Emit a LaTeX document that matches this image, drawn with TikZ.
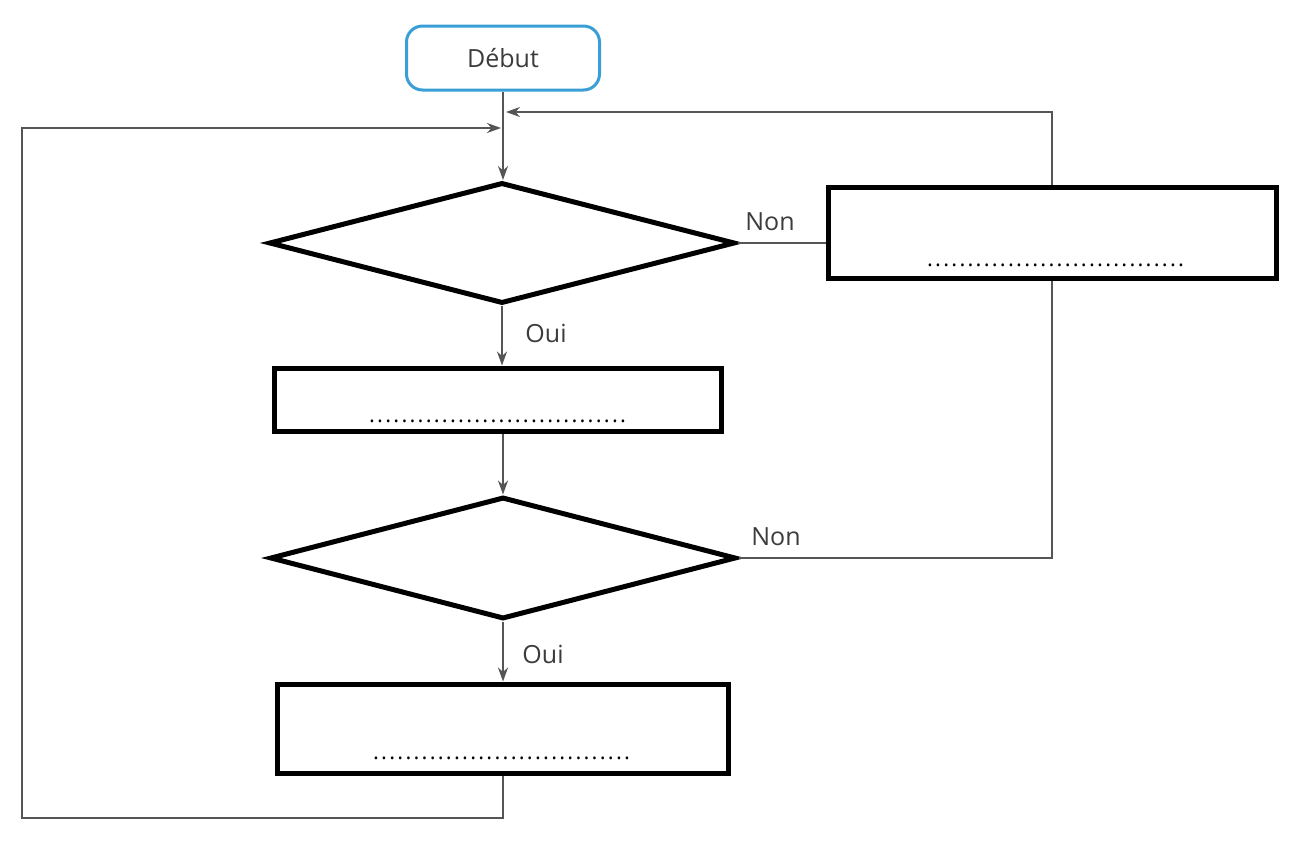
\documentclass[tikz,border=0pt]{standalone}
\usepackage{fontspec}
\setmainfont{Open Sans}
\usetikzlibrary{shapes.geometric,arrows.meta}
\definecolor{txtgray}{HTML}{3C3C3C}
\definecolor{lgray}{HTML}{555555}
\definecolor{dblue}{HTML}{3A9FD6}
\newcommand{\dotrow}{\hbox to 260pt{\leaders\hbox to 8.1pt{\hss.\hss}\hfill}}
\begin{document}
\begin{tikzpicture}[x=1pt,y=-1pt,
  every node/.style={font=\fontsize{25}{30}\selectfont, text=txtgray},
  conn/.style={draw=lgray, line width=2pt},
  arr/.style={conn,-{Stealth[length=14pt,width=10pt]}},
  startbox/.style={draw=dblue, line width=3pt, rounded corners=16pt, fill=white, inner sep=0pt},
  procbox/.style={draw=black, line width=5pt, inner sep=0pt},
  decbox/.style={diamond, draw=black, line width=5pt, inner sep=0pt},
  dotstxt/.style={text=black, inner sep=0pt, font=\fontsize{22}{26}\selectfont}
]
\useasboundingbox[fill=white] (0,0) rectangle (1290,852);

% nodes
\node[startbox, minimum width=193pt, minimum height=64pt] (start) at (503,58) {Début};
\node[decbox, minimum width=466pt, minimum height=121pt] (d1) at (502,243) {};
\node[procbox, minimum width=447pt, minimum height=63pt] (b1) at (498,399.5) {};
\node[decbox, minimum width=466pt, minimum height=122pt] (d2) at (503,558) {};
\node[procbox, minimum width=451pt, minimum height=89pt] (b3) at (503,728.5) {};
\node[procbox, minimum width=448pt, minimum height=91pt] (rb) at (1052,232.5) {};

% dotted answer lines
\node[dotstxt] (dots1) at (498,421) {\dotrow};
\node[dotstxt] (dots3) at (502,758) {\dotrow};
\node[dotstxt] (dotsr) at (1056,265) {\dotrow};

% labels
\node (non1) at (770,222) {Non};
\node (non2) at (776,537) {Non};
\node (oui1) at (546,333) {Oui};
\node (oui2) at (543,654) {Oui};

% junction coordinates
\coordinate (jr) at (506,112);
\coordinate (jl) at (501,128);
\coordinate (lb) at (503,818);
\coordinate (lc) at (22,818);
\coordinate (lt) at (22,128);

% connectors
\draw[arr] (start.south) -- (start.south |- d1.north);
\draw[arr] (d1.south) -- (b1.north -| d1.south);
\draw[arr] (b1.south -| d2.north) -- (d2.north);
\draw[arr] (d2.south) -- (b3.north);
\draw[conn] (d1.east) -- (d1.east -| rb.west);
\draw[conn] (d2.east) -| (rb.south);
\draw[arr] (rb.north) |- (jr);
\draw[arr] (b3.south) -- (lb) -- (lc) -- (lt) -- (jl);
\end{tikzpicture}
\end{document}
